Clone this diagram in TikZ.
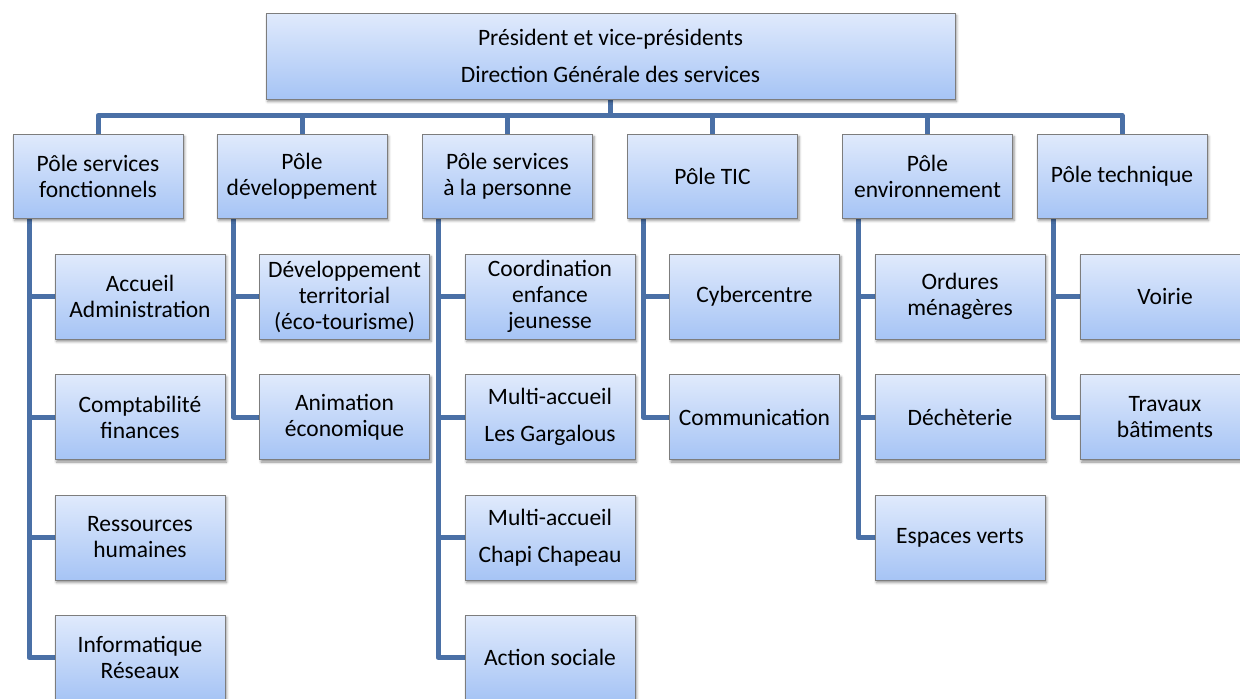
\documentclass[tikz,border=0pt]{standalone}
\usepackage{fontspec}
\setmainfont{Carlito}
\usetikzlibrary{shadows.blur,backgrounds,calc}
\definecolor{boxtop}{RGB}{224,234,252}
\definecolor{boxbot}{RGB}{166,196,245}
\definecolor{boxborder}{RGB}{125,125,125}
\definecolor{linkcol}{RGB}{74,112,166}
\tikzset{
  orgbox/.style={draw=boxborder, line width=0.9pt, top color=boxtop, bottom color=boxbot,
    minimum width=170pt, minimum height=85pt, inner sep=0pt, align=center,
    font=\fontsize{23.5}{26}\selectfont,
    blur shadow={shadow xshift=1.5pt, shadow yshift=-2.5pt, shadow blur radius=2.5pt, shadow opacity=45}},
  polebox/.style={orgbox, minimum height=84pt},
  link/.style={draw=linkcol, line width=5pt, line join=round}
}
\begin{document}
\begin{tikzpicture}[x=1pt,y=-1pt]
\useasboundingbox (0,0) rectangle (1240,699);
% top
\node[orgbox, minimum width=689pt, minimum height=86pt] (top) at (610.5,56)
  {Président et vice-présidents\\[11pt]Direction Générale des services};
% poles
\node[polebox] (p1) at (98,176) {Pôle services\\fonctionnels};
\node[polebox] (p2) at (302,176) {Pôle\\développement};
\node[polebox] (p3) at (507.5,176) {Pôle services\\à la personne};
\node[polebox] (p4) at (712.5,176) {Pôle TIC};
\node[polebox] (p5) at (927.5,176) {Pôle\\environnement};
\node[polebox] (p6) at (1122,176) {Pôle technique};
% column 1
\node[orgbox] (c11) at (140,296.5) {Accueil\\Administration};
\node[orgbox] (c12) at (140,417) {Comptabilité\\finances};
\node[orgbox] (c13) at (140,537.5) {Ressources\\humaines};
\node[orgbox] (c14) at (140,657.5) {Informatique\\Réseaux};
% column 2
\node[orgbox] (c21) at (344.5,296.5) {Développement\\territorial\\(éco-tourisme)};
\node[orgbox] (c22) at (344.5,417) {Animation\\économique};
% column 3
\node[orgbox] (c31) at (550,296.5) {Coordination\\enfance\\jeunesse};
\node[orgbox] (c32) at (550,417) {Multi-accueil\\[11pt]Les Gargalous};
\node[orgbox] (c33) at (550,537.5) {Multi-accueil\\[11pt]Chapi Chapeau};
\node[orgbox] (c34) at (550,657.5) {Action sociale};
% column 4
\node[orgbox] (c41) at (754.5,296.5) {Cybercentre};
\node[orgbox] (c42) at (754.5,417) {Communication};
% column 5
\node[orgbox] (c51) at (960,296.5) {Ordures\\ménagères};
\node[orgbox] (c52) at (960,417) {Déchèterie};
\node[orgbox] (c53) at (960,537.5) {Espaces verts};
% column 6
\node[orgbox] (c61) at (1165,296.5) {Voirie};
\node[orgbox] (c62) at (1165,417) {Travaux\\bâtiments};
% connectors
\begin{pgfonlayer}{background}
\draw[link] (top.south) -- ++(0,17);
\draw[link] (p1.north) -- ++(0,-18) -| (p6.north);
\foreach \p in {p2,p3,p4,p5} \draw[link] (\p.north) -- ++(0,-18);
\foreach \c in {c11,c12,c13,c14} \draw[link] ([xshift=16.5pt]p1.south west) |- (\c.west);
\foreach \c in {c21,c22} \draw[link] ([xshift=17pt]p2.south west) |- (\c.west);
\foreach \c in {c31,c32,c33,c34} \draw[link] ([xshift=16pt]p3.south west) |- (\c.west);
\foreach \c in {c41,c42} \draw[link] ([xshift=16pt]p4.south west) |- (\c.west);
\foreach \c in {c51,c52,c53} \draw[link] ([xshift=16pt]p5.south west) |- (\c.west);
\foreach \c in {c61,c62} \draw[link] ([xshift=17pt]p6.south west) |- (\c.west);
\end{pgfonlayer}
\end{tikzpicture}
\end{document}
